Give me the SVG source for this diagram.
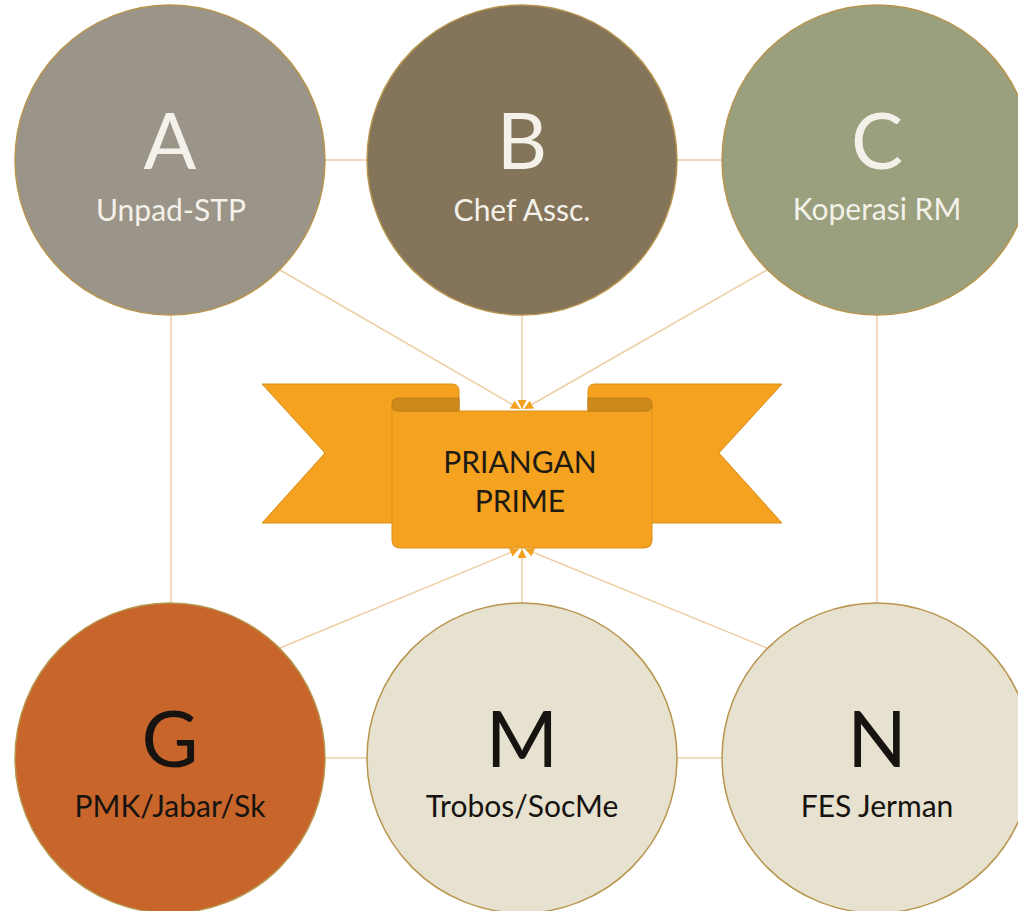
<svg xmlns="http://www.w3.org/2000/svg" width="1018" height="911" viewBox="0 0 1018 911">
<defs>
<style>
.con{stroke:#EDCFA4;stroke-width:1.5;fill:none}
.circ{stroke:#B8954E;stroke-width:1.5}
.big{font-family:Lato,"Open Sans","DejaVu Sans",sans-serif;font-size:78px;text-anchor:middle}
.sub{font-family:Lato,"Open Sans","DejaVu Sans",sans-serif;font-size:30px;text-anchor:middle}
.light{fill:#F4F1EA}
.dark{fill:#161310}
.rib{fill:#F4A220;stroke:#D8901E;stroke-width:1}
.fold{fill:#CF8A1C;stroke:#C07E18;stroke-width:1}
.ttl{font-family:Lato,"Open Sans","DejaVu Sans",sans-serif;font-size:30px;text-anchor:middle;fill:#1E1A14}
</style>
<marker id="ah" viewBox="0 0 10 10" refX="10" refY="5" markerWidth="9" markerHeight="9" markerUnits="userSpaceOnUse" orient="auto">
<path d="M0,0 L10,5 L0,10 Z" fill="#F2A01E"/>
</marker>
</defs>
<rect width="1018" height="911" fill="#FFFFFF"/>
<g id="connectors">
<line class="con" x1="325" y1="160" x2="367" y2="160"/>
<line class="con" x1="677" y1="160" x2="722" y2="160"/>
<line class="con" x1="171" y1="315" x2="171" y2="604"/>
<line class="con" x1="877" y1="315" x2="877" y2="604"/>
<line class="con" x1="325" y1="758" x2="367" y2="758"/>
<line class="con" x1="677" y1="758" x2="722" y2="758"/>
<line class="con" x1="280" y1="270" x2="520" y2="409" marker-end="url(#ah)"/>
<line class="con" x1="522" y1="315" x2="522" y2="409" marker-end="url(#ah)"/>
<line class="con" x1="767" y1="270" x2="524" y2="409" marker-end="url(#ah)"/>
<line class="con" x1="280" y1="648" x2="519" y2="549" marker-end="url(#ah)"/>
<line class="con" x1="522" y1="604" x2="522" y2="549" marker-end="url(#ah)"/>
<line class="con" x1="767" y1="648" x2="525" y2="549" marker-end="url(#ah)"/>
</g>
<g id="ribbon">
<path class="rib" d="M262,384 H452 Q459,384 459,391 V523 H262 L325,453 Z"/>
<path class="rib" d="M782,384 H595 Q588,384 588,391 V523 H782 L719,453 Z"/>
<path class="rib" d="M392,405 Q392,411 398,411 H646 Q652,411 652,405 V540 Q652,548 644,548 H400 Q392,548 392,540 Z"/>
<path class="fold" d="M459,411 H398 Q392,411 392,404.5 Q392,398 398,398 H459 Z"/>
<path class="fold" d="M588,411 H646 Q652,411 652,404.5 Q652,398 646,398 H588 Z"/>
<text class="ttl" x="520" y="473">PRIANGAN</text>
<text class="ttl" x="520" y="512">PRIME</text>
</g>
<g id="nodeA">
<circle class="circ" cx="170" cy="160" r="155" fill="#9B9488"/>
<text class="big light" x="170" y="169">A</text>
<text class="sub light" x="171" y="221">Unpad-STP</text>
</g>
<g id="nodeB">
<circle class="circ" cx="522" cy="160" r="155" fill="#83745A"/>
<text class="big light" x="522" y="169">B</text>
<text class="sub light" x="522" y="221">Chef Assc.</text>
</g>
<g id="nodeC">
<circle class="circ" cx="877" cy="160" r="155" fill="#9AA07D"/>
<text class="big light" x="877" y="169">C</text>
<text class="sub light" x="877" y="220">Koperasi RM</text>
</g>
<g id="nodeG">
<circle class="circ" cx="170" cy="758" r="155" fill="#C8652B"/>
<text class="big dark" x="170" y="767">G</text>
<text class="sub dark" x="170" y="817">PMK/Jabar/Sk</text>
</g>
<g id="nodeM">
<circle class="circ" cx="522" cy="758" r="155" fill="#E7E1CF"/>
<text class="big dark" x="522" y="767">M</text>
<text class="sub dark" x="522" y="817">Trobos/SocMe</text>
</g>
<g id="nodeN">
<circle class="circ" cx="877" cy="758" r="155" fill="#E7E1CF"/>
<text class="big dark" x="877" y="767">N</text>
<text class="sub dark" x="877" y="817">FES Jerman</text>
</g>
</svg>
